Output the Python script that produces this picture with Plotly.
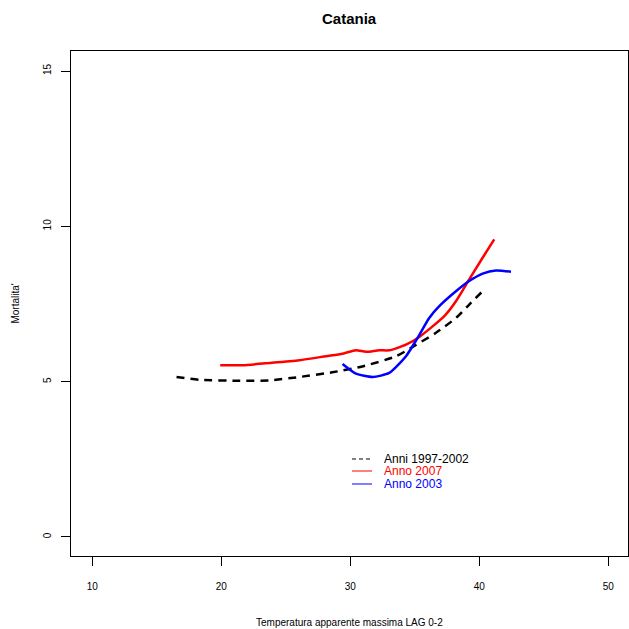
import plotly.graph_objects as go

# Data
x_ref = [16.53, 18.29, 21.40, 23.72, 26.05, 28.60, 30.93, 33.57, 35.12, 36.67, 38.22, 39.22, 40.16]
y_ref = [5.15, 5.06, 5.03, 5.04, 5.15, 5.30, 5.49, 5.82, 6.19, 6.58, 7.06, 7.48, 7.87]

x_2007 = [19.92, 21.65, 23.72, 26.05, 28.12, 29.40, 30.44, 31.22, 32.25, 33.02, 34.32, 35.35, 37.29, 38.19, 39.22, 40.26, 41.16]
y_2007 = [5.53, 5.53, 5.60, 5.69, 5.82, 5.90, 6.01, 5.96, 6.01, 6.01, 6.19, 6.44, 7.11, 7.59, 8.29, 8.99, 9.58]

x_2003 = [29.40, 30.44, 31.73, 33.02, 34.32, 35.22, 36.12, 36.90, 38.19, 39.22, 40.26, 41.29, 42.46]
y_2003 = [5.57, 5.26, 5.15, 5.28, 5.82, 6.41, 7.05, 7.43, 7.91, 8.24, 8.48, 8.58, 8.54]

legend_labels = ["Anni 1997-2002", "Anno 2007", "Anno 2003"]
x_ticks = [10, 20, 30, 40, 50]
y_ticks = [0, 5, 10, 15]

FONT = "Liberation Sans, Arial, sans-serif"

fig = go.Figure()
fig.add_trace(go.Scatter(x=x_ref, y=y_ref, mode="lines", line=dict(color="black", width=2.5, dash="8px,6px", shape="spline", smoothing=0.6), showlegend=False))
fig.add_trace(go.Scatter(x=x_2007, y=y_2007, mode="lines", line=dict(color="#ff0000", width=2.5, shape="spline", smoothing=0.6), showlegend=False))
fig.add_trace(go.Scatter(x=x_2003, y=y_2003, mode="lines", line=dict(color="#0000ff", width=2.5, shape="spline", smoothing=0.6), showlegend=False))

fig.update_layout(
    width=629, height=629,
    margin=dict(l=71, r=1, t=51, b=73),
    paper_bgcolor="white", plot_bgcolor="white",
    font=dict(family=FONT, size=10, color="black"),
    showlegend=False,
)
fig.update_xaxes(
    range=[8.35, 51.53], tickvals=x_ticks, ticktext=[str(v) for v in x_ticks],
    showgrid=False, zeroline=False, showline=True, linecolor="black", linewidth=1,
    mirror=True, ticks="outside", ticklen=9, tickcolor="black", tickwidth=1,
    tickfont=dict(size=10, family=FONT), ticklabelstandoff=12,
)
fig.update_yaxes(
    range=[-0.613, 15.645], tickvals=y_ticks, ticktext=[str(v) for v in y_ticks],
    showgrid=False, zeroline=False, showline=True, linecolor="black", linewidth=1,
    mirror=True, ticks="outside", ticklen=9, tickcolor="black", tickwidth=1,
    tickangle=-90, tickfont=dict(size=10, family=FONT), ticklabelstandoff=6,
)

anns = [
    dict(text="<b>Catania</b>", x=0.5, y=1.0653, xref="paper", yref="paper", showarrow=False,
         xanchor="center", yanchor="middle", font=dict(size=15, family=FONT)),
    dict(text="Temperatura apparente massima LAG 0-2", x=0.5, y=-0.1307, xref="paper", yref="paper",
         showarrow=False, xanchor="center", yanchor="middle", font=dict(size=10, family=FONT)),
    dict(text="Mortalita'", x=-0.1004, y=0.5, xref="paper", yref="paper", textangle=-90,
         showarrow=False, xanchor="center", yanchor="middle", font=dict(size=10, family=FONT)),
]
leg_colors = ["black", "#ff0000", "#0000ff"]
leg_dash = ["4px,3px", "solid", "solid"]
leg_y = [0.1921, 0.1683, 0.1426]
shapes = []
for lab, col, d, yy in zip(legend_labels, leg_colors, leg_dash, leg_y):
    shapes.append(dict(type="line", xref="paper", yref="paper", x0=0.5045, x1=0.5404, y0=yy, y1=yy,
                       line=dict(color=col, width=1, dash=d)))
    anns.append(dict(text=lab, x=0.5601, y=yy, xref="paper", yref="paper", showarrow=False,
                     xanchor="left", yanchor="middle", borderpad=0,
                     font=dict(size=12, family=FONT, color=col)))
fig.update_layout(annotations=anns, shapes=shapes)

fig.write_html(
    "out.html",
    config={"displayModeBar": False},
    post_script="document.body.style.margin='0';document.body.style.overflow='hidden';",
)
